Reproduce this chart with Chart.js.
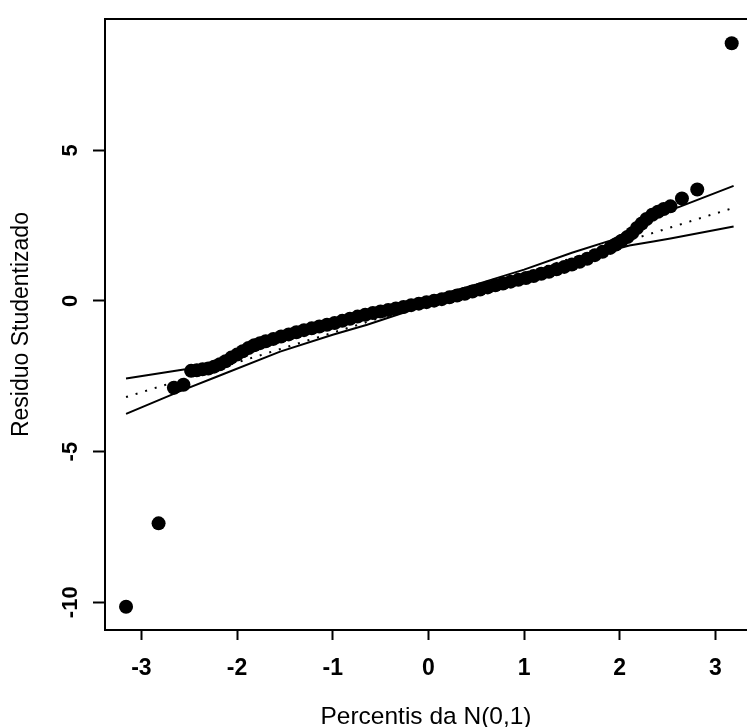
<!DOCTYPE html>
<html>
<head>
<meta charset="utf-8">
<script src="https://cdn.jsdelivr.net/npm/chart.js"></script>
<style>
  html, body { margin: 0; padding: 0; background: #fff; overflow: hidden; }
  canvas { display: block; }
</style>
</head>
<body>
<canvas id="qq" width="747" height="727"></canvas>
<script>
// percentis teóricos da N(0,1) e resíduos studentizados ordenados
const quantis = [
  -3.16, -2.82, -2.66, -2.56,
  -2.48, -2.42, -2.36, -2.30, -2.24, -2.18, -2.12, -2.06, -2.00, -1.94,
  -1.88, -1.82, -1.76, -1.70, -1.62, -1.54, -1.46, -1.38, -1.30, -1.22,
  -1.14, -1.06, -0.98, -0.90, -0.82, -0.74, -0.66, -0.58, -0.50, -0.42,
  -0.34, -0.26, -0.18, -0.10, -0.02, 0.06, 0.14, 0.22, 0.30, 0.38,
  0.46, 0.54, 0.62, 0.70, 0.78, 0.86, 0.94, 1.02, 1.10, 1.18,
  1.26, 1.34, 1.42, 1.50, 1.58, 1.66, 1.74, 1.82, 1.90, 1.96,
  2.02, 2.08, 2.13, 2.18, 2.23, 2.28, 2.34, 2.40, 2.46, 2.53,
  2.65, 2.81, 3.17
];
const residuos = [
  -10.15, -7.38, -2.88, -2.78,
  -2.32, -2.30, -2.27, -2.24, -2.18, -2.10, -2.00, -1.88, -1.78, -1.67,
  -1.56, -1.47, -1.40, -1.34, -1.26, -1.18, -1.11, -1.04, -0.97, -0.91,
  -0.85, -0.79, -0.73, -0.66, -0.59, -0.52, -0.46, -0.40, -0.35, -0.30,
  -0.25, -0.20, -0.14, -0.09, -0.04, 0.01, 0.06, 0.12, 0.18, 0.24,
  0.31, 0.38, 0.45, 0.52, 0.58, 0.64, 0.70, 0.76, 0.83, 0.90,
  0.97, 1.05, 1.13, 1.21, 1.30, 1.40, 1.52, 1.63, 1.76, 1.87,
  2.00, 2.12, 2.25, 2.42, 2.57, 2.72, 2.86, 2.96, 3.05, 3.14,
  3.40, 3.70, 8.55
];

// envelope simulado: limite superior, limite inferior e mediana
const supX = [-3.16, -2.54, -2.2, -1.8, -1.4, -1.0, -0.5, 0, 0.5, 1.0, 1.5, 1.9, 2.2, 2.42, 2.63, 3.19];
const supY = [-2.57, -2.27, -2.02, -1.62, -1.2, -0.8, -0.33, 0.1, 0.55, 1.04, 1.6, 2.0, 2.5, 2.89, 3.13, 3.82];
const infX = [-3.16, -2.6, -2.2, -1.55, -1.0, -0.64, 0, 0.5, 1.0, 1.5, 1.8, 2.1, 2.35, 2.53, 3.19];
const infY = [-3.75, -3.0, -2.5, -1.68, -1.12, -0.79, -0.12, 0.36, 0.85, 1.3, 1.58, 1.84, 1.97, 2.07, 2.47];
const medX = [-3.16, 3.19];
const medY = [-3.19, 3.09];

const xTicks = [-3, -2, -1, 0, 1, 2, 3];
const yTicks = [-10, -5, 0, 5];

const pares = (xs, ys) => xs.map((x, i) => ({x, y: ys[i]}));

const fonte = "'Liberation Sans', Arial, Helvetica, sans-serif";
const preto = "#000";

const linha = (data, extra) => ({
    type: "line",
    data,
    borderColor: preto,
    borderWidth: 2,
    pointRadius: 0,
    fill: false,
    tension: 0,
    order: 1,
    ...extra,
});

new Chart(document.getElementById("qq").getContext("2d"), {
    type: "scatter",
    data: {
        datasets: [
            {
                data: pares(quantis, residuos),
                backgroundColor: preto,
                borderWidth: 0,
                pointRadius: 7,
                pointHoverRadius: 7,
                order: 0,
            },
            linha(pares(supX, supY)),
            linha(pares(infX, infY)),
            linha(pares(medX, medY), {borderDash: [2, 8], borderCapStyle: "butt"}),
        ],
    },
    options: {
        responsive: false,
        animation: false,
        events: [],
        layout: {autoPadding: false, padding: {top: 14, right: 0, bottom: 0, left: 0}},
        plugins: {legend: {display: false}, tooltip: {enabled: false}},
        scales: {
            x: {
                type: "linear",
                position: "bottom",
                min: -3.38,
                max: 3.33,
                afterBuildTicks: (s) => { s.ticks = xTicks.map((v) => ({value: v})); },
                afterFit: (s) => { s.height = 97; },
                grid: {drawOnChartArea: false, tickLength: 10, tickColor: preto, tickWidth: 2},
                border: {display: true, color: preto, width: 2},
                ticks: {color: preto, padding: 15, font: {family: fonte, size: 23, weight: "bold"}},
                title: {
                    display: true,
                    text: "Percentis da N(0,1)",
                    color: preto,
                    padding: {top: 0, bottom: -2},
                    font: {family: fonte, size: 24.5, lineHeight: 1},
                },
            },
            y: {
                type: "linear",
                position: "left",
                min: -10.92,
                max: 9.35,
                afterBuildTicks: (s) => { s.ticks = yTicks.map((v) => ({value: v})); },
                afterFit: (s) => { s.width = 105; },
                grid: {drawOnChartArea: false, tickLength: 12, tickColor: preto, tickWidth: 2},
                border: {display: true, color: preto, width: 2},
                ticks: {
                    color: preto,
                    padding: 6,
                    minRotation: 90,
                    maxRotation: 90,
                    crossAlign: "center",
                    font: {family: fonte, size: 22, weight: "bold"},
                },
                title: {
                    display: true,
                    text: "Residuo Studentizado",
                    color: preto,
                    padding: {top: 10.5, bottom: 0},
                    font: {family: fonte, size: 23, lineHeight: 1},
                },
            },
            // linha superior da moldura
            topo: {
                type: "linear",
                axis: "x",
                position: "top",
                min: -3.38,
                max: 3.33,
                afterFit: (s) => { s.height = 0; },
                grid: {drawOnChartArea: false, drawTicks: false},
                border: {display: true, color: preto, width: 2},
                ticks: {display: false},
            },
        },
    },
});
</script>
</body>
</html>
